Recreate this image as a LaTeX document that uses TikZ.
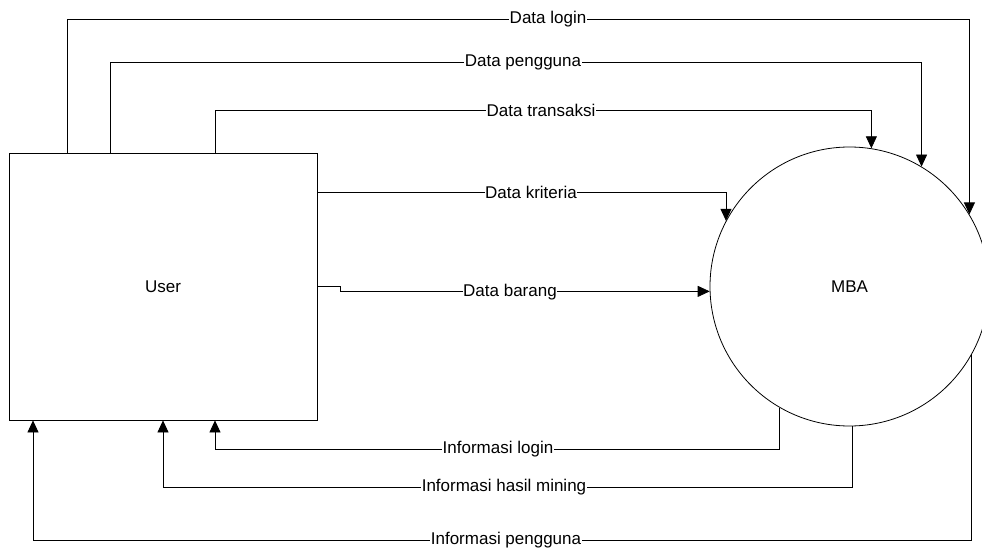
\documentclass[tikz,border=0pt]{standalone}
\usepackage{fontspec}
\setmainfont{Liberation Sans}
\usetikzlibrary{arrows.meta}
\begin{document}
\begin{tikzpicture}[x=1pt,y=-1pt,
  every node/.style={font=\fontsize{17}{20}\selectfont},
  flow/.style={line width=0.8pt,-{Triangle[length=12pt,width=11pt]}},
  plainline/.style={line width=0.8pt},
  lbl/.style={fill=white,inner sep=0.5pt}]
\useasboundingbox (0,0) rectangle (982,548);
\node[draw,line width=0.8pt,minimum width=308pt,minimum height=267pt,inner sep=0pt] (user) at (163,286.5) {User};
\node[draw,circle,line width=0.8pt,minimum size=279pt,inner sep=0pt] (mba) at (849.5,286.5) {MBA};
% flows to MBA
\draw[flow] (67,0 |- user.north) |- (mba.31 |- 0,19) -- (mba.31);
\draw[flow] (110,0 |- user.north) |- (mba.59 |- 0,62) -- (mba.59);
\draw[flow] (215,0 |- user.north) |- (mba.81 |- 0,110) -- (mba.81);
\draw[flow] (user.east |- 0,192) -| (mba.152);
\draw[flow] (user.east) -- ++(23,0) |- (mba.182);
% flows to User
\draw[flow] (mba.-120) |- (215,449) -- (215,0 |- user.south);
\draw[flow] (mba.-89) |- (163,487) -- (163,0 |- user.south);
\draw[flow] (mba.-29) |- (33,540) -- (33,0 |- user.south);
% labels
\node[lbl] (l1) at (548,19) {Data login};
\node[lbl] (l2) at (523,62) {Data pengguna};
\node[lbl] (l3) at (541,110) {Data transaksi};
\node[lbl] (l4) at (531,192) {Data kriteria};
\node[lbl] (l5) at (510,292) {Data barang};
\node[lbl] (l6) at (498,449) {Informasi login};
\node[lbl] (l7) at (504,487) {Informasi hasil mining};
\node[lbl] (l8) at (506,540) {Informasi pengguna};
\end{tikzpicture}
\end{document}
